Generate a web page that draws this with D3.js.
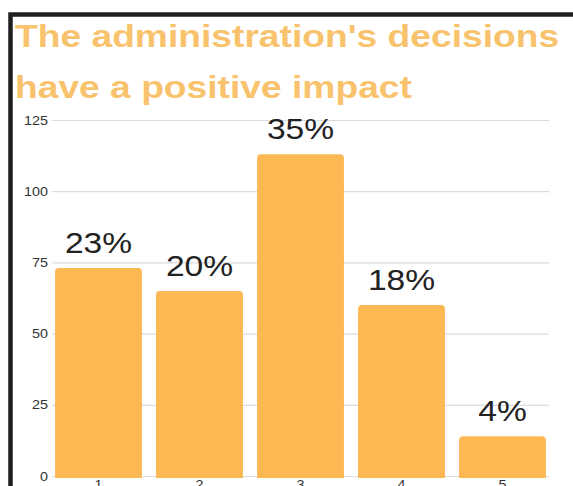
<!DOCTYPE html>
<html><head><meta charset="utf-8">
<script src="https://cdn.jsdelivr.net/npm/d3@7"></script>
<style>html,body{margin:0;padding:0;background:#fff;overflow:hidden}</style>
</head><body><svg id="c" width="573" height="486"></svg>
<script>
const titleLines = ["The administration's decisions", "have a positive impact"];
const categories = ["1", "2", "3", "4", "5"];
const values = [73, 65, 113, 60, 14];
const percentLabels = ["23%", "20%", "35%", "18%", "4%"];
const yTicks = [0, 25, 50, 75, 100, 125];

const svg = d3.select("#c");
const font = "'Liberation Sans', Arial, sans-serif";

// frame
svg.append("rect").attr("x", 10.5).attr("y", 14.5).attr("width", 600).attr("height", 600)
  .attr("fill", "#fff").attr("stroke", "#1f1f1f").attr("stroke-width", 4.5);

const x = d3.scaleBand().domain(categories).range([48, 553]).paddingInner(0.14).paddingOuter(0.07);
const y = d3.scaleLinear().domain([0, 125]).range([476, 120]);

// gridlines
svg.append("g").selectAll("line").data(yTicks).join("line")
  .attr("x1", 52).attr("x2", 549)
  .attr("y1", d => y(d) + 0.5).attr("y2", d => y(d) + 0.5)
  .attr("stroke", "#dcdcdc").attr("stroke-width", 1.2);

// y tick labels
svg.append("g").selectAll("text").data(yTicks).join("text")
  .attr("transform", d => `translate(48,${y(d) + 4.5}) scale(1.15,1)`)
  .attr("text-anchor", "end")
  .attr("font-family", font).attr("font-size", 12.5).attr("fill", "#333")
  .text(d => d);

// bars with rounded top corners
const r = 4;
function barPath(d, i) {
  const x0 = x(categories[i]), w = x.bandwidth(), y0 = y(d), yb = y(0) + 2;
  return `M${x0},${yb}V${y0 + r}Q${x0},${y0} ${x0 + r},${y0}H${x0 + w - r}Q${x0 + w},${y0} ${x0 + w},${y0 + r}V${yb}Z`;
}
svg.append("g").selectAll("path").data(values).join("path")
  .attr("d", barPath).attr("fill", "#fcb853");

// value labels
svg.append("g").selectAll("text").data(values).join("text")
  .attr("transform", (d, i) => `translate(${x(categories[i]) + x.bandwidth() / 2},${y(d) - 15}) scale(1.12,1)`)
  .attr("text-anchor", "middle")
  .attr("font-family", font).attr("font-size", 30).attr("fill", "#222")
  .text((d, i) => percentLabels[i]);

// x tick labels (partly cropped by the bottom edge, as in the reference)
svg.append("g").selectAll("text").data(categories).join("text")
  .attr("transform", d => `translate(${x(d) + x.bandwidth() / 2},${y(0) + 13}) scale(1.15,1)`)
  .attr("text-anchor", "middle")
  .attr("font-family", font).attr("font-size", 12.5).attr("fill", "#333")
  .text(d => d);

// title
svg.append("g").selectAll("text").data(titleLines).join("text")
  .attr("transform", (d, i) => `translate(15,${47 + i * 51}) scale(1.2,1)`)
  .attr("font-family", font).attr("font-weight", "bold").attr("font-size", 31)
  .attr("fill", "#f8c36c")
  .text(d => d);
</script></body></html>
